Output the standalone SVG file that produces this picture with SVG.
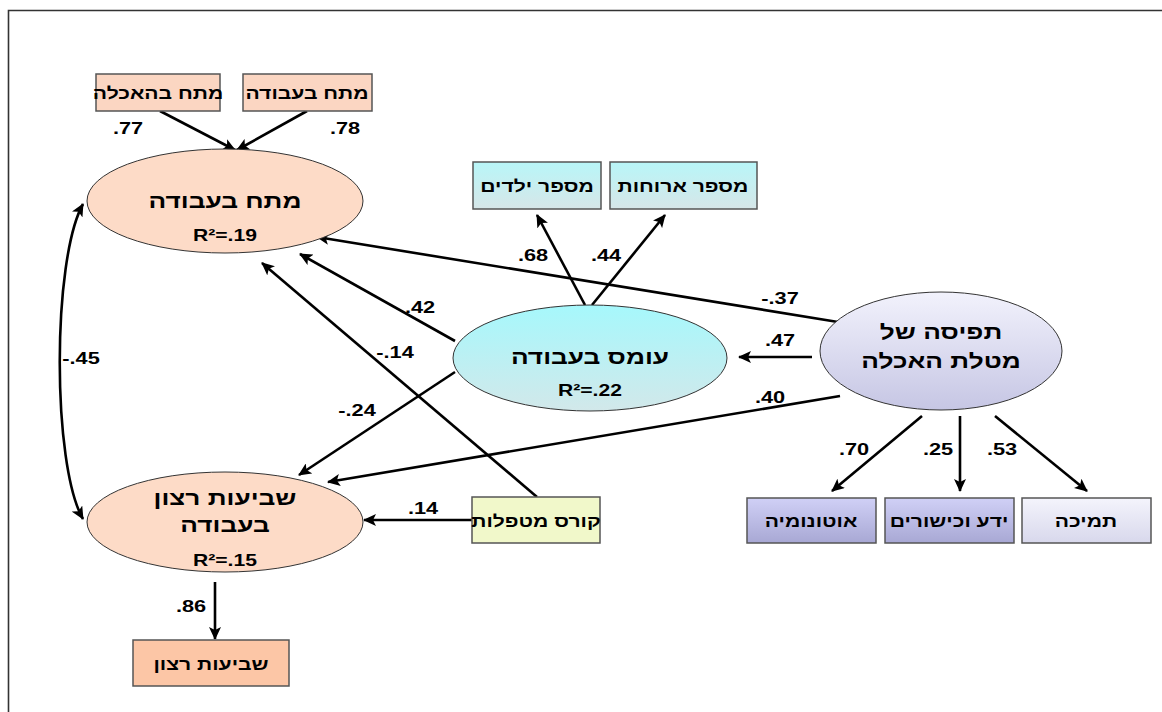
<svg xmlns="http://www.w3.org/2000/svg" width="1162" height="712" viewBox="0 0 1162 712">
<style>
text{font-family:"Liberation Sans","DejaVu Sans",Arial,sans-serif;font-weight:bold;fill:#000;text-anchor:middle}
.t{font-size:20.5px}
.b{font-size:16.5px}
.n{font-size:17px;direction:ltr;unicode-bidi:bidi-override}
.r{font-size:16.5px;direction:ltr;unicode-bidi:bidi-override}
.box{stroke:#555;stroke-width:1.5}
.ell{stroke:#333;stroke-width:1}
.c line,.c path{stroke:#000;stroke-width:2.6;fill:none}
</style>
<defs>
<marker id="ah" markerUnits="userSpaceOnUse" markerWidth="14" markerHeight="12" refX="12" refY="6" orient="auto-start-reverse" viewBox="0 0 14 12">
<path d="M0,0 L13,6 L0,12 L3,6 z" fill="#000"/>
</marker>
<linearGradient id="gCyanBox" x1="0" y1="0" x2="0" y2="1"><stop offset="0" stop-color="#B8F6F8"/><stop offset="1" stop-color="#D6E6E8"/></linearGradient>
<linearGradient id="gCyanEll" x1="0" y1="0" x2="0" y2="1"><stop offset="0" stop-color="#A6F8FC"/><stop offset="1" stop-color="#D2E8EA"/></linearGradient>
<linearGradient id="gLav" x1="0" y1="0" x2="0" y2="1"><stop offset="0" stop-color="#F2F2FC"/><stop offset="1" stop-color="#C6C6E4"/></linearGradient>
<linearGradient id="gLavBox" x1="0" y1="0" x2="0" y2="1"><stop offset="0" stop-color="#D0D0F6"/><stop offset="1" stop-color="#A8A8D4"/></linearGradient>
<linearGradient id="gLavLight" x1="0" y1="0" x2="0" y2="1"><stop offset="0" stop-color="#F4F4FC"/><stop offset="1" stop-color="#D8D8EC"/></linearGradient>
</defs>
<rect width="1162" height="712" fill="#fff"/>
<path d="M8.5,712 V10.5 H1162" fill="none" stroke="#333" stroke-width="1.6"/>

<g class="c" id="connectors">
<line x1="160" y1="111" x2="235" y2="150" marker-end="url(#ah)"/>
<line x1="307" y1="111" x2="237" y2="150" marker-end="url(#ah)"/>
<path d="M83,204 C52,260 52,465 83,519" marker-start="url(#ah)" marker-end="url(#ah)"/>
<line x1="838" y1="322" x2="317" y2="237" marker-end="url(#ah)"/>
<line x1="455" y1="341" x2="300" y2="254" marker-end="url(#ah)"/>
<line x1="537" y1="497" x2="262" y2="263" marker-end="url(#ah)"/>
<line x1="455" y1="372" x2="299" y2="475" marker-end="url(#ah)"/>
<line x1="840" y1="396" x2="328" y2="482" marker-end="url(#ah)"/>
<line x1="812" y1="357" x2="739" y2="357" marker-end="url(#ah)"/>
<line x1="585" y1="305" x2="537" y2="215" marker-end="url(#ah)"/>
<line x1="592" y1="305" x2="665" y2="215" marker-end="url(#ah)"/>
<line x1="472" y1="520" x2="364" y2="520" marker-end="url(#ah)"/>
<line x1="215" y1="582" x2="215" y2="639" marker-end="url(#ah)"/>
<line x1="922" y1="416" x2="832" y2="491" marker-end="url(#ah)"/>
<line x1="960" y1="416" x2="960" y2="491" marker-end="url(#ah)"/>
<line x1="995" y1="416" x2="1087" y2="491" marker-end="url(#ah)"/>
</g>

<g id="labels">
<text class="n" transform="translate(128,134) scale(1.28,1)">.77</text>
<text class="n" transform="translate(345,134) scale(1.28,1)">.78</text>
<text class="n" transform="translate(81,364) scale(1.28,1)">-.45</text>
<text class="n" transform="translate(780,304) scale(1.28,1)">-.37</text>
<text class="n" transform="translate(420,313) scale(1.28,1)">.42</text>
<text class="n" transform="translate(395,358) scale(1.28,1)">-.14</text>
<text class="n" transform="translate(357,416) scale(1.28,1)">-.24</text>
<text class="n" transform="translate(770,403) scale(1.28,1)">.40</text>
<text class="n" transform="translate(780,346) scale(1.28,1)">.47</text>
<text class="n" transform="translate(533,261) scale(1.28,1)">.68</text>
<text class="n" transform="translate(606,261) scale(1.28,1)">.44</text>
<text class="n" transform="translate(423,514) scale(1.28,1)">.14</text>
<text class="n" transform="translate(191,612) scale(1.28,1)">.86</text>
<text class="n" transform="translate(854,455) scale(1.28,1)">.70</text>
<text class="n" transform="translate(938,455) scale(1.28,1)">.25</text>
<text class="n" transform="translate(1002,455) scale(1.28,1)">.53</text>
</g>

<g id="box-matah-haachala">
<rect class="box" x="96" y="74" width="124" height="37" fill="#FBD6C2"/>
<text class="b" transform="translate(158,99) scale(1.28,1)">מתח בהאכלה</text>
</g>
<g id="box-matah-baavoda">
<rect class="box" x="243" y="74" width="129" height="37" fill="#FBD6C2"/>
<text class="b" transform="translate(307,99) scale(1.28,1)">מתח בעבודה</text>
</g>
<g id="ell-matah-baavoda">
<ellipse class="ell" cx="225" cy="201" rx="138" ry="52" fill="#FDDBC7"/>
<text class="t" transform="translate(225,208) scale(1.28,1)">מתח בעבודה</text>
<text class="r" transform="translate(225,241) scale(1.28,1)">R²=.19</text>
</g>
<g id="box-mispar-yeladim">
<rect class="box" x="473" y="162" width="128" height="47" fill="url(#gCyanBox)"/>
<text class="b" transform="translate(537,192) scale(1.28,1)">מספר ילדים</text>
</g>
<g id="box-mispar-aruhot">
<rect class="box" x="610" y="162" width="147" height="47" fill="url(#gCyanBox)"/>
<text class="b" transform="translate(683,192) scale(1.28,1)">מספר ארוחות</text>
</g>
<g id="ell-omes">
<ellipse class="ell" cx="590" cy="358" rx="137" ry="53" fill="url(#gCyanEll)"/>
<text class="t" transform="translate(590,364) scale(1.28,1)">עומס בעבודה</text>
<text class="r" transform="translate(590,396) scale(1.28,1)">R²=.22</text>
</g>
<g id="ell-tfisa">
<ellipse class="ell" cx="941" cy="351" rx="121" ry="59" fill="url(#gLav)"/>
<text class="t" transform="translate(941,339) scale(1.28,1)">תפיסה של</text>
<text class="t" transform="translate(941,368) scale(1.28,1)">מטלת האכלה</text>
</g>
<g id="ell-svi-ut">
<ellipse class="ell" cx="225" cy="522" rx="138" ry="50" fill="#FDDBC7"/>
<text class="t" transform="translate(225,505) scale(1.28,1)">שביעות רצון</text>
<text class="t" transform="translate(225,532) scale(1.28,1)">בעבודה</text>
<text class="r" transform="translate(225,566) scale(1.28,1)">R²=.15</text>
</g>
<g id="box-kurs">
<rect class="box" x="472" y="497" width="128" height="46" fill="#F1F8CA"/>
<text class="b" transform="translate(536,527) scale(1.28,1)">קורס מטפלות</text>
</g>
<g id="box-svi-ut">
<rect class="box" x="133" y="640" width="156" height="46" fill="#FCC6A6"/>
<text class="b" transform="translate(211,670) scale(1.28,1)">שביעות רצון</text>
</g>
<g id="box-autonomia">
<rect class="box" x="747" y="498" width="129" height="45" fill="url(#gLavBox)"/>
<text class="b" transform="translate(811,527) scale(1.28,1)">אוטונומיה</text>
</g>
<g id="box-yeda">
<rect class="box" x="885" y="498" width="129" height="45" fill="url(#gLavBox)"/>
<text class="b" transform="translate(949,527) scale(1.28,1)">ידע וכישורים</text>
</g>
<g id="box-tmicha">
<rect class="box" x="1022" y="498" width="129" height="45" fill="url(#gLavLight)"/>
<text class="b" transform="translate(1086,527) scale(1.28,1)">תמיכה</text>
</g>
</svg>
